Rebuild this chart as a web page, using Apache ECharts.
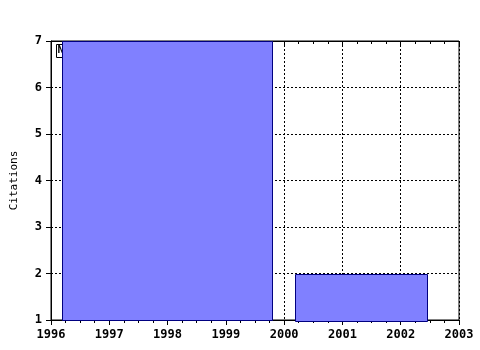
<!DOCTYPE html>
<html><head><meta charset="utf-8">
<script src="https://cdn.jsdelivr.net/npm/echarts@6/dist/echarts.min.js"></script>
<style>html,body{margin:0;padding:0;background:#fff}#c{width:480px;height:350px}</style>
</head><body><div id="c"></div>
<script>
var barStart = [1996.19, 2000.19];
var barEnd = [1999.80, 2002.46];
var citations = [7, 2];
var xTicks = [1996, 1997, 1998, 1999, 2000, 2001, 2002, 2003];
var yTicks = [1, 2, 3, 4, 5, 6, 7];

var data = barStart.map(function (s, i) { return [s, barEnd[i], citations[i]]; });
var chart = echarts.init(document.getElementById('c'));
var lblFont = {color: '#000', fontFamily: 'DejaVu Sans Mono', fontWeight: 'bold', fontSize: 12};
chart.setOption({
  animation: false,
  grid: {left: 51, right: 21, top: 41, bottom: 30, containLabel: false, outerBoundsMode: 'none', show: true, borderColor: '#000', borderWidth: 1, backgroundColor: 'transparent'},
  xAxis: [{
    type: 'value', min: xTicks[0], max: xTicks[xTicks.length - 1], interval: 1,
    axisLine: {show: true, onZero: false, lineStyle: {color: '#000'}},
    axisTick: {show: true, length: 5, lineStyle: {color: '#000'}},
    minorTick: {show: true, splitNumber: 4, length: 3, lineStyle: {color: '#000'}},
    axisLabel: Object.assign({margin: 9, formatter: function (v) { return String(v); }}, lblFont),
    splitLine: {show: true, lineStyle: {color: '#000', type: [2, 2], width: 1}}
  }, {
    type: 'value', position: 'top', min: xTicks[0], max: xTicks[xTicks.length - 1], interval: 1,
    axisLine: {show: true, onZero: false, lineStyle: {color: '#000'}},
    axisTick: {show: true, inside: true, length: 4, lineStyle: {color: '#000'}},
    minorTick: {show: true, splitNumber: 4, length: 3, lineStyle: {color: '#000'}},
    axisLabel: {show: false}, splitLine: {show: false}
  }],
  yAxis: [{
    type: 'value', min: yTicks[0], max: yTicks[yTicks.length - 1], interval: 1,
    name: 'Citations', nameLocation: 'middle', nameGap: 31, nameRotate: 90,
    nameTextStyle: {color: '#000', fontFamily: 'DejaVu Sans Mono', fontSize: 11},
    axisLine: {show: true, onZero: false, lineStyle: {color: '#000'}},
    axisTick: {show: true, length: 5, lineStyle: {color: '#000'}},
    axisLabel: Object.assign({margin: 9}, lblFont),
    splitLine: {show: true, lineStyle: {color: '#000', type: [2, 2], width: 1}}
  }],
  graphic: [{
    type: 'rect', z: 0, shape: {x: 56.5, y: 44.5, width: 10, height: 13},
    style: {fill: '#fff', stroke: '#000', lineWidth: 1}
  }, {
    type: 'text', z: 0, x: 57.5, y: 45,
    style: {text: 'N', fill: '#000', font: 'bold 11px "DejaVu Sans Mono"'}
  }],
  series: [{
    type: 'custom', z: 5, data: data,
    encode: {x: [0, 1], y: 2},
    renderItem: function (params, api) {
      var p0 = api.coord([api.value(0), api.value(2)]);
      var p1 = api.coord([api.value(1), yTicks[0]]);
      return {type: 'rect', shape: {x: Math.round(p0[0]) + 0.5, y: Math.round(p0[1]) + 0.5, width: Math.round(p1[0] - p0[0]), height: Math.round(p1[1] - p0[1])},
        style: {fill: '#8080ff', stroke: '#000080', lineWidth: 1}};
    }
  }]
});
</script></body></html>
